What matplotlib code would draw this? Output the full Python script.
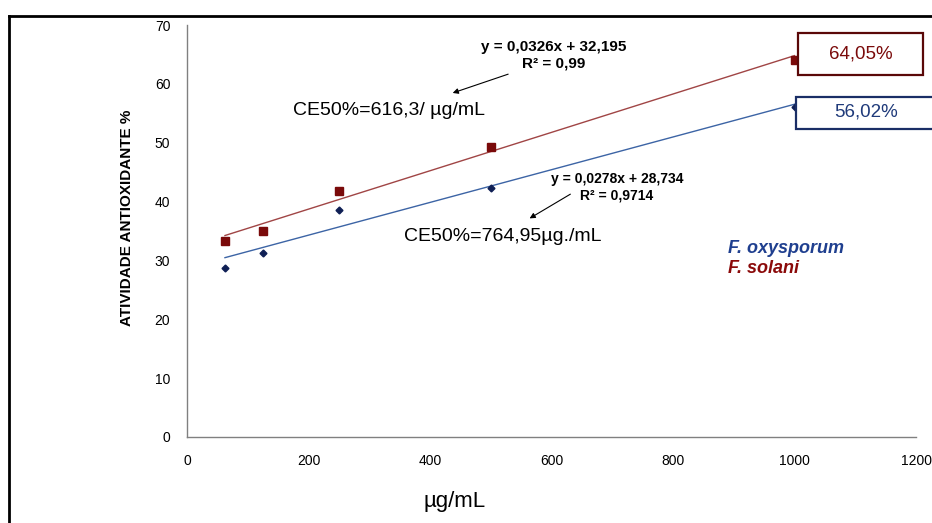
import matplotlib
matplotlib.use('Agg')
import matplotlib.pyplot as plt
from matplotlib.patches import Rectangle
from matplotlib.lines import Line2D
import numpy as np

# data
conc = [62.5, 125, 250, 500, 1000]
solani = [33.3, 35.0, 41.8, 49.3, 64.05]
oxysporum = [28.7, 31.3, 38.6, 42.3, 56.02]
fit_solani = (0.0326, 32.195)
fit_oxy = (0.0278, 28.734)
xticks = [0, 200, 400, 600, 800, 1000, 1200]
yticks = [0, 10, 20, 30, 40, 50, 60, 70]

font = 'Liberation Sans'
red = '#7a0a0a'
navy = '#1f3a7a'

fig = plt.figure(figsize=(9.32, 5.23), dpi=100)
ax = fig.add_axes([187/932, 86/523, 729/932, 412/523])

xs = np.array([conc[0], conc[-1]])
ax.plot(xs, fit_solani[0]*xs + fit_solani[1], color='#a04545', lw=1)
ax.plot(xs, fit_oxy[0]*xs + fit_oxy[1], color='#3c64a5', lw=1)
ax.plot(conc, solani, 's', color=red, ms=6, clip_on=False, zorder=3)
ax.plot(conc, oxysporum, 'D', color='#0f1f55', ms=3.5, clip_on=False, zorder=3)

ax.set_xlim(0, 1200)
ax.set_ylim(0, 70)
ax.set_xticks(xticks)
ax.set_yticks(yticks)
ax.tick_params(length=0, labelsize=10, pad=12)
for lab in ax.get_xticklabels() + ax.get_yticklabels():
    lab.set_family(font)
for s in ['top', 'right']:
    ax.spines[s].set_visible(False)
for s in ['left', 'bottom']:
    ax.spines[s].set_color('#808080')
    ax.spines[s].set_linewidth(1)

# equations and arrows
ax.text(604, 64.9, 'y = 0,0326x + 32,195\nR² = 0,99', ha='center', va='center',
        fontsize=11, fontweight='bold', family=font, linespacing=1.25)
ax.annotate('', xy=(433, 58.3), xytext=(533, 61.8),
            arrowprops=dict(arrowstyle='-|>', color='black', lw=0.8, mutation_scale=8))
ax.text(174.5, 55.4, 'CE50%=616,3/ µg/mL', ha='left', va='center', fontsize=14, family=font)

ax.text(708, 42.4, 'y = 0,0278x + 28,734\nR² = 0,9714', ha='center', va='center',
        fontsize=10, fontweight='bold', family=font, linespacing=1.25)
ax.annotate('', xy=(560, 36.9), xytext=(635, 41.5),
            arrowprops=dict(arrowstyle='-|>', color='black', lw=0.8, mutation_scale=8))
ax.text(357, 34.0, 'CE50%=764,95µg./mL', ha='left', va='center', fontsize=14, family=font)

# value boxes
ax.add_patch(Rectangle((1005.8, 61.5), 205.7, 7.1, fill=True, facecolor='white',
                       edgecolor='#5a0808', lw=1.6, clip_on=False, zorder=4))
ax.text(1109, 65.1, '64,05%', ha='center', va='center', color=red, fontsize=13.5,
        family=font, zorder=5)
ax.add_patch(Rectangle((1002.5, 52.3), 240, 5.5, fill=True, facecolor='white',
                       edgecolor='#1a2e66', lw=1.6, clip_on=False, zorder=4))
ax.text(1118, 55.2, '56,02%', ha='center', va='center', color=navy, fontsize=13.5,
        family=font, zorder=5)

# legend text
ax.text(890.5, 32.1, 'F. oxysporum', color='#1f3f8f', fontsize=13, fontweight='bold',
        style='italic', family=font, va='center')
ax.text(890.5, 28.7, 'F. solani', color='#8b0a0a', fontsize=13, fontweight='bold',
        style='italic', family=font, va='center')

fig.text(127/932, 1 - 218/523, 'ATIVIDADE ANTIOXIDANTE %', rotation=90, ha='center',
         va='center', fontsize=11, fontweight='bold', family=font)
fig.text(455/932, 1 - 502/523, 'µg/mL', ha='center', va='center', fontsize=16, family=font)

# outer frame
fig.add_artist(Line2D([9/932, 1], [1 - 16/523, 1 - 16/523], color='black', lw=2))
fig.add_artist(Line2D([9/932, 9/932], [0, 1 - 16/523], color='black', lw=2))

fig.savefig('out.png', dpi=100)
